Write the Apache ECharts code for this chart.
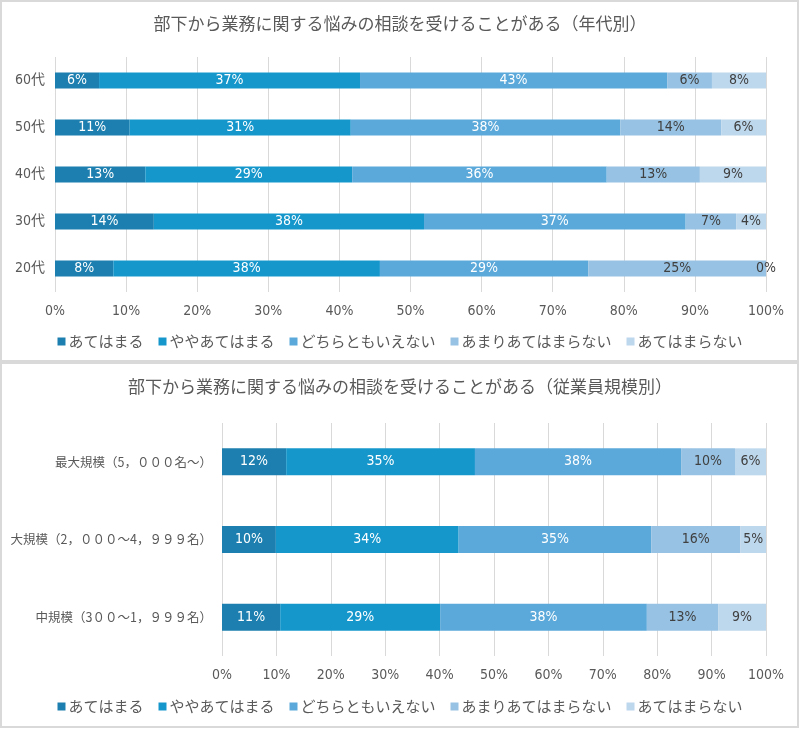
<!DOCTYPE html>
<html><head><meta charset="utf-8">
<script src="https://cdn.jsdelivr.net/npm/echarts@6/dist/echarts.min.js"></script>
<style>
html,body{margin:0;padding:0;background:#fff;}
#c{width:800px;height:729px;}
</style></head>
<body><div id="c"></div>
<script>
// ---- data ----
var seriesNames = ['あてはまる','ややあてはまる','どちらともいえない','あまりあてはまらない','あてはまらない'];
var ageCategories = ['60代','50代','40代','30代','20代'];
var age_atehamaru      = [6.2, 10.5, 12.7, 13.9, 8.2];
var age_yaya           = [36.7, 31.1, 29.1, 38.0, 37.5];
var age_dochira        = [43.2, 37.9, 35.8, 36.8, 29.3];
var age_amari          = [6.3, 14.2, 13.1, 7.1, 25.0];
var age_atehamaranai   = [7.6, 6.3, 9.3, 4.2, 0.0];
var sizeCategories = ['最大規模（5，０００名～）','大規模（2，０００～4，９９９名）','中規模（3００～1，９９９名）'];
var size_atehamaru     = [11.8, 9.9, 10.7];
var size_yaya          = [34.7, 33.6, 29.4];
var size_dochira       = [37.9, 35.4, 38.0];
var size_amari         = [9.9, 16.4, 13.1];
var size_atehamaranai  = [5.7, 4.7, 8.8];
var xTicks = [0,10,20,30,40,50,60,70,80,90,100];
var title1 = '部下から業務に関する悩みの相談を受けることがある（年代別）';
var title2 = '部下から業務に関する悩みの相談を受けることがある（従業員規模別）';

// ---- styles ----
var colors = ['#1C7FAF','#1697CC','#5BA9DA','#97C2E3','#BDD7EC'];
var labelColors = ['#ffffff','#ffffff','#ffffff','#404040','#404040'];
var numFont = '"DejaVu Sans Condensed","Liberation Sans Narrow","Noto Sans CJK JP",sans-serif';
var jpFont = '"Noto Sans CJK JP",sans-serif';

var ageData = [age_atehamaru, age_yaya, age_dochira, age_amari, age_atehamaranai];
var sizeData = [size_atehamaru, size_yaya, size_dochira, size_amari, size_atehamaranai];

function xAxis(gi){
  return {type:'value', gridIndex:gi, min:xTicks[0], max:xTicks[xTicks.length-1], interval:xTicks[1]-xTicks[0],
    axisLine:{show:false}, axisTick:{show:false},
    splitLine:{show:true, lineStyle:{color:'#d9d9d9', width:1}},
    axisLabel:{formatter:function(v){return v+'%';}, color:'#595959', fontSize:14, fontFamily:numFont, margin:12}};
}
function yAxis(gi, cats, font, fs){
  return {type:'category', gridIndex:gi, data:cats, inverse:true,
    axisLine:{show:false}, axisTick:{show:false}, splitLine:{show:false},
    axisLabel:{color:'#595959', fontSize:fs, fontFamily:font, margin:10}};
}
var series = [];
function addSeries(data, gi, stack, bw){
  for (var i=0;i<5;i++){
    series.push({name:seriesNames[i], type:'bar', stack:stack, xAxisIndex:gi, yAxisIndex:gi,
      data:data[i], barWidth:bw, itemStyle:{color:colors[i]},
      label:{show:true, position:'inside', color:labelColors[i], fontSize:14, fontFamily:numFont,
        formatter:function(p){return Math.round(p.value)+'%';}},
      emphasis:{disabled:true}, animation:false});
  }
}
addSeries(ageData, 0, 'age', 16);
addSeries(sizeData, 1, 'size', 27);

function legend(top){
  return {top:top, left:'center', data:seriesNames, icon:'rect', itemWidth:8, itemHeight:8,
    itemGap:15, textStyle:{color:'#595959', fontSize:15, fontFamily:jpFont, padding:[0,0,0,-2]}};
}

var chart = echarts.init(document.getElementById('c'), null, {renderer:'canvas'});
chart.setOption({
  animation:false,
  title:[
    {text:title1, left:'center', top:10, textStyle:{color:'#595959', fontSize:17, fontWeight:'normal', fontFamily:jpFont}},
    {text:title2, left:'center', top:373, textStyle:{color:'#595959', fontSize:17, fontWeight:'normal', fontFamily:jpFont}}
  ],
  legend:[legend(329), legend(694)],
  grid:[
    {left:55, right:34, top:57, height:235},
    {left:222, right:34, top:423, height:233}
  ],
  xAxis:[xAxis(0), xAxis(1)],
  yAxis:[yAxis(0, ageCategories, numFont, 14), yAxis(1, sizeCategories, jpFont, 12.5)],
  series:series,
  graphic:[
    {type:'rect', shape:{x:1, y:1, width:797, height:360}, style:{fill:'none', stroke:'#d9d9d9', lineWidth:2}, silent:true},
    {type:'rect', shape:{x:1, y:363, width:797, height:364}, style:{fill:'none', stroke:'#d9d9d9', lineWidth:2}, silent:true}
  ]
});
</script>
</body></html>
